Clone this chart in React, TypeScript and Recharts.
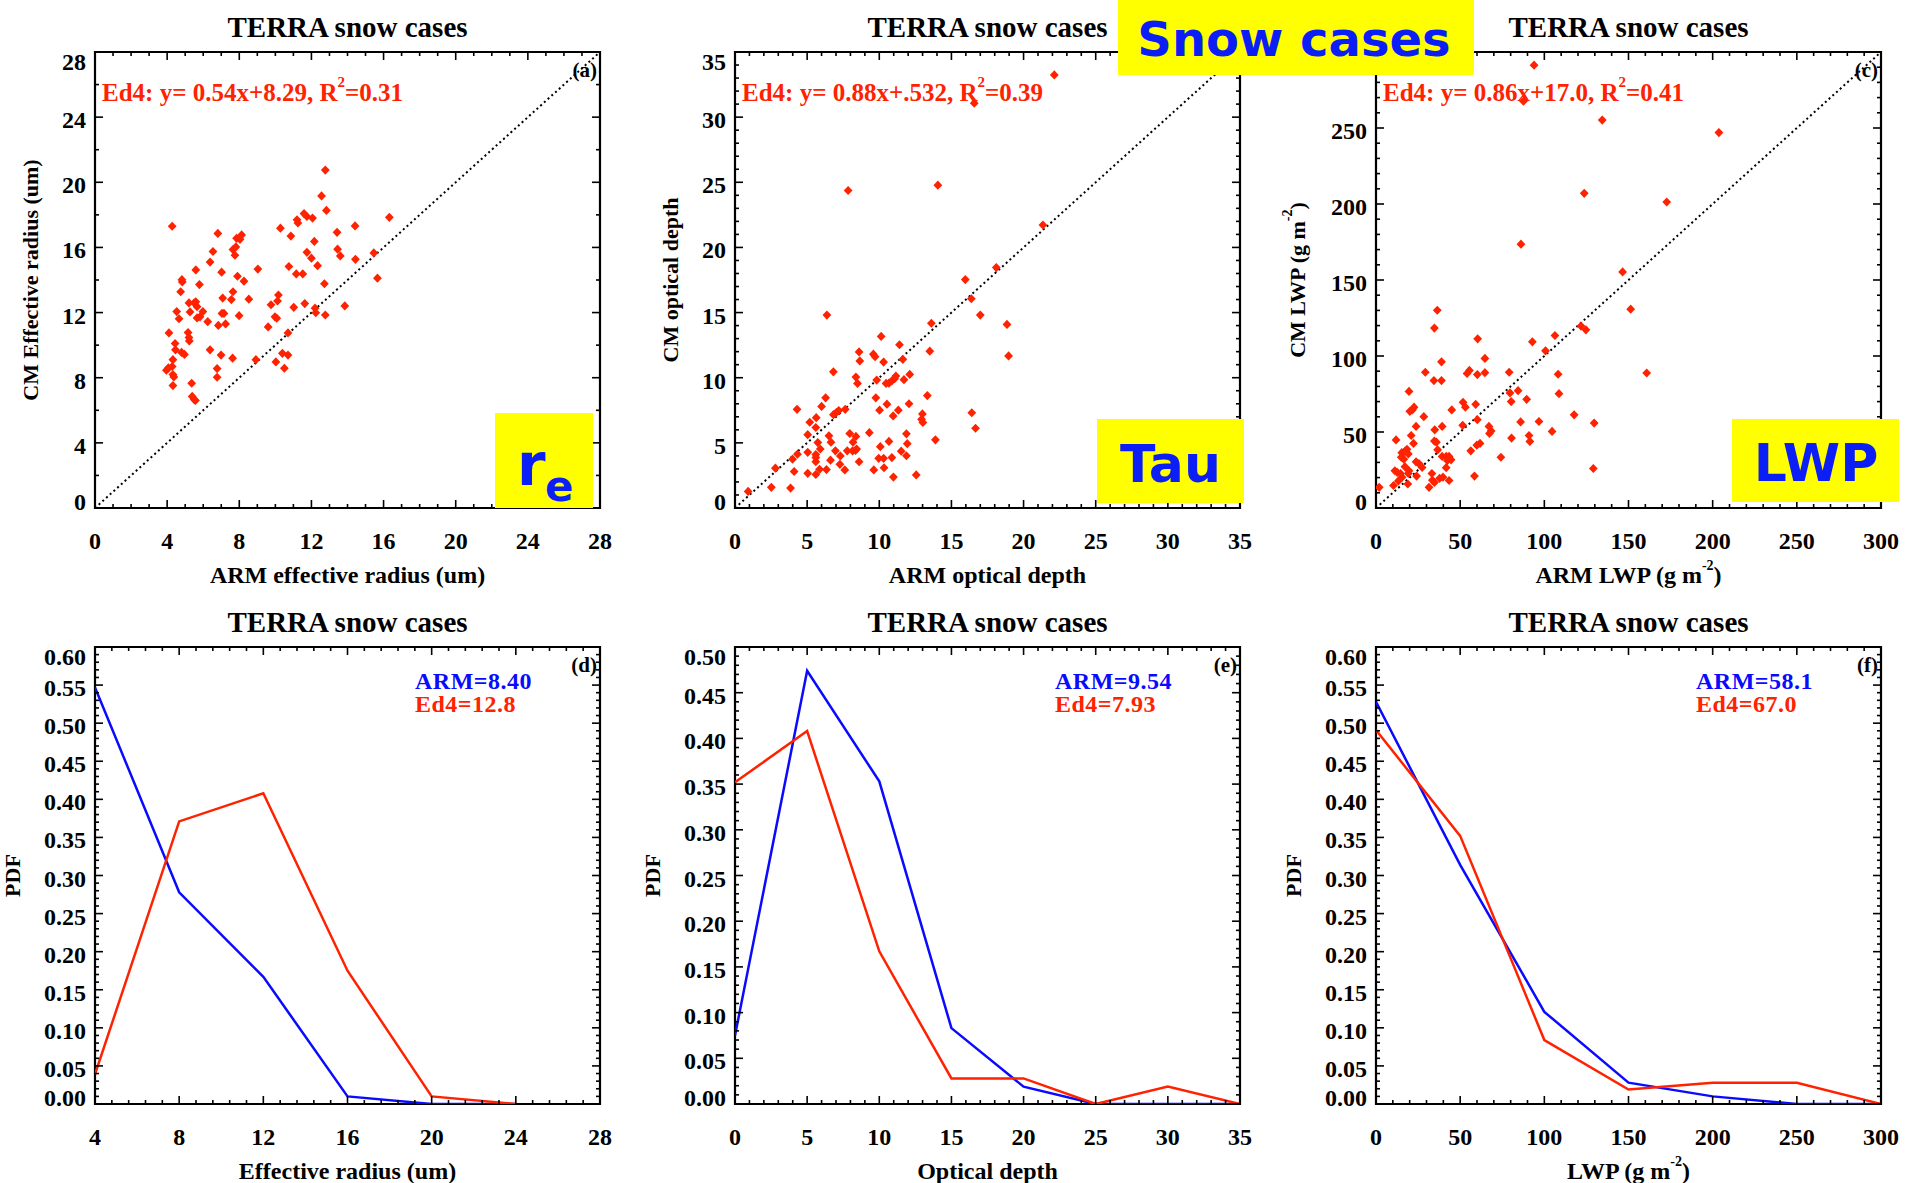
import React from 'react';
import { ScatterChart, Scatter, LineChart, Line, XAxis, YAxis, ReferenceLine, ReferenceArea } from 'recharts';

// ---- scatter data (ARM vs CM) ----
const reArm = [4.28, 12.77, 12.56, 12.83, 16.32, 14.42, 11.59, 11.75, 11.2, 11.25,
  12.06, 10.28, 10.86, 6.81, 7.85, 8.13, 8.04, 6.54, 7.65, 7.81,
  7.76, 6.38, 5.59, 7.02, 7.9, 8.26, 9.03, 4.82, 4.84, 5.79,
  4.75, 4.53, 4.66, 5.21, 5.27, 5.5, 5.59, 5.66, 5.98, 5.82,
  5.66, 6.25, 7.08, 7.56, 7.65, 7.04, 7.15, 7.24, 6.84, 7.99,
  8.53, 4.1, 5.16, 5.21, 5.23, 4.44, 4.46, 4.8, 4.96, 4.32,
  6.38, 6.99, 7.63, 8.92, 3.96, 4.07, 4.28, 4.32, 4.37, 4.32,
  5.36, 6.77, 6.77, 5.39, 5.5, 5.57, 9.76, 10.12, 10.17, 9.98,
  10.08, 9.6, 11.02, 11.63, 10.75, 11.16, 11.52, 11.75, 12.0, 12.16,
  12.34, 12.2, 12.24, 12.72, 12.77, 13.42, 13.45, 13.6, 14.44, 13.85,
  15.46, 15.66, 10.7, 10.39, 10.7, 10.03, 10.5];
const reCm = [17.3, 20.75, 19.16, 18.27, 17.85, 17.32, 18.08, 17.9, 17.7, 17.5,
  17.8, 17.18, 16.7, 16.86, 16.56, 16.77, 16.5, 15.75, 15.87, 16.03,
  15.52, 15.1, 14.62, 14.48, 14.23, 13.93, 14.67, 14.02, 13.88, 13.72,
  13.28, 12.06, 11.62, 12.59, 12.04, 12.59, 12.66, 12.36, 12.06, 11.74,
  11.67, 11.44, 12.89, 12.8, 13.28, 11.95, 11.95, 11.3, 11.21, 11.81,
  12.82, 10.75, 10.77, 10.47, 10.26, 10.1, 9.71, 9.55, 9.43, 9.11,
  9.71, 9.39, 9.2, 9.11, 8.46, 8.6, 8.69, 8.19, 8.05, 7.52,
  7.66, 8.56, 8.03, 6.85, 6.66, 6.6, 12.48, 12.71, 13.08, 11.74,
  11.65, 11.12, 12.32, 12.55, 14.83, 14.37, 14.37, 15.7, 15.34, 16.37,
  14.88, 12.27, 11.99, 13.77, 11.85, 16.93, 15.89, 15.48, 15.27, 12.41,
  15.66, 14.11, 10.75, 9.5, 9.39, 8.97, 8.58];

const tauArm = [22.13, 16.58, 7.84, 14.06, 21.34, 18.11, 15.96, 16.38, 17.0, 18.85,
  6.37, 13.61, 18.96, 13.5, 10.13, 11.4, 8.6, 9.59, 9.71, 10.3,
  11.63, 8.65, 6.82, 8.38, 8.49, 9.82, 10.47, 10.67, 10.87, 11.15,
  11.06, 11.71, 12.11, 6.28, 9.76, 13.33, 4.3, 6.0, 6.82, 7.02,
  7.19, 7.64, 10.53, 10.02, 10.96, 11.32, 12.06, 12.99, 13.02, 12.93,
  16.41, 16.67, 5.18, 5.63, 5.6, 5.04, 5.74, 6.51, 6.65, 5.91,
  6.96, 7.3, 7.78, 7.95, 8.38, 8.18, 8.35, 8.15, 8.43, 8.6,
  9.31, 10.07, 9.96, 10.3, 10.67, 10.87, 10.33, 9.62, 10.98, 11.52,
  11.88, 11.94, 11.88, 12.56, 13.89, 5.04, 5.6, 5.6, 5.6, 5.86,
  6.34, 5.6, 5.04, 6.62, 7.27, 7.61, 4.1, 3.99, 4.33, 2.8,
  2.52, 3.85, 0.91];
const tauCm = [33.24, 31.07, 24.37, 24.78, 21.72, 18.45, 17.53, 16.06, 14.81, 14.09,
  14.81, 14.18, 11.67, 12.04, 13.17, 12.53, 11.98, 11.81, 11.61, 11.2,
  11.41, 11.29, 10.45, 10.05, 9.56, 9.82, 9.56, 9.59, 9.76, 10.13,
  9.93, 9.85, 10.25, 8.46, 8.46, 8.63, 7.57, 7.8, 7.16, 7.33,
  7.48, 7.57, 7.97, 7.51, 7.07, 7.51, 8.0, 7.22, 6.57, 6.81,
  7.31, 6.12, 6.58, 6.93, 6.18, 5.63, 5.02, 5.54, 5.05, 4.53,
  4.39, 4.0, 4.39, 5.72, 5.49, 5.05, 4.42, 4.39, 4.53, 3.55,
  5.78, 4.71, 3.81, 3.81, 5.11, 3.87, 3.09, 2.92, 2.37, 4.36,
  4.01, 4.94, 5.69, 2.54, 5.23, 4.27, 4.1, 3.87, 3.55, 2.97,
  2.95, 2.57, 2.66, 3.67, 3.35, 2.92, 2.8, 3.75, 4.13, 3.06,
  1.59, 1.53, 1.27];

const lwpArm = [93.9, 87.6, 134.4, 203.7, 123.7, 172.7, 86.1, 146.5, 151.3, 160.8,
  121.8, 124.7, 106.3, 92.9, 100.7, 108.2, 108.7, 117.7, 129.6, 104.6,
  129.1, 84.4, 79.1, 79.6, 80.3, 89.5, 85.9, 96.8, 90.9, 91.4,
  80.5, 74.2, 60.4, 64.7, 64.7, 60.2, 55.5, 54.1, 51.7, 53.1,
  59.2, 60.2, 51.5, 67.1, 68.4, 67.4, 61.8, 59.9, 56.3, 58.5,
  36.4, 34.7, 38.9, 29.3, 34.4, 38.9, 19.6, 21.6, 22.6, 20.1,
  28.4, 45.0, 39.3, 34.9, 34.7, 35.9, 20.9, 23.8, 22.3, 11.9,
  36.6, 39.3, 41.7, 43.4, 42.4, 44.6, 41.7, 23.8, 25.5, 27.4,
  18.4, 17.2, 15.3, 15.0, 16.5, 19.2, 11.2, 12.6, 17.2, 19.2,
  15.5, 13.3, 10.4, 18.9, 24.1, 33.2, 33.5, 31.5, 34.7, 39.8,
  37.8, 43.4, 1.9, 14.6, 19.6];
const lwpCm = [291.3, 267.6, 255.2, 247.0, 207.0, 201.3, 173.6, 155.3, 130.8, 88.8,
  119.7, 117.2, 113.5, 109.3, 103.4, 88.0, 75.2, 61.3, 55.9, 50.4,
  26.0, 77.2, 89.3, 75.7, 70.0, 71.5, 56.6, 56.9, 47.7, 43.8,
  46.0, 33.4, 111.3, 98.4, 89.0, 87.8, 90.5, 88.5, 69.5, 66.3,
  68.2, 58.1, 54.4, 53.7, 50.7, 49.0, 42.5, 41.3, 37.6, 21.0,
  130.1, 118.4, 96.2, 89.3, 83.8, 83.8, 76.7, 64.5, 66.3, 63.6,
  60.1, 64.5, 53.7, 51.4, 44.0, 43.3, 47.7, 53.7, 42.5, 44.8,
  38.3, 33.9, 33.9, 33.9, 31.2, 31.7, 26.5, 30.4, 29.2, 26.7,
  38.6, 37.3, 36.4, 33.4, 32.1, 35.6, 24.5, 23.5, 27.2, 22.7,
  20.3, 17.8, 14.8, 15.8, 21.0, 22.7, 18.3, 13.6, 16.8, 20.3,
  19.5, 18.1, 13.6, 22.7, 24.5];

// ---- PDF data ----
const reBins = [4, 8, 12, 16, 20, 24];
const reArmPdf = [0.547, 0.278, 0.167, 0.01, 0, 0];
const reEd4Pdf = [0.039, 0.371, 0.408, 0.175, 0.01, 0];

const tauBins = [0, 5, 10, 15, 20, 25, 30, 35];
const tauArmPdf = [0.075, 0.474, 0.353, 0.083, 0.019, 0, 0, 0];
const tauEd4Pdf = [0.352, 0.408, 0.167, 0.028, 0.028, 0, 0.019, 0];

const lwpBins = [0, 50, 100, 150, 200, 250, 300];
const lwpArmPdf = [0.528, 0.314, 0.121, 0.028, 0.01, 0, 0];
const lwpEd4Pdf = [0.491, 0.352, 0.084, 0.019, 0.028, 0.028, 0];

// ---- tick labels ----
const reTicks = [0, 4, 8, 12, 16, 20, 24, 28];
const reTicksPdf = [4, 8, 12, 16, 20, 24, 28];
const tauTicks = [0, 5, 10, 15, 20, 25, 30, 35];
const lwpTicks = [0, 50, 100, 150, 200, 250, 300];
const pdfTicks6 = [0, 0.05, 0.1, 0.15, 0.2, 0.25, 0.3, 0.35, 0.4, 0.45, 0.5, 0.55, 0.6];
const pdfTicks5 = [0, 0.05, 0.1, 0.15, 0.2, 0.25, 0.3, 0.35, 0.4, 0.45, 0.5];

const SERIF = '"Liberation Serif", "Times New Roman", serif';
const SANS = '"DejaVu Sans", Verdana, sans-serif';
const RED = '#ff2200';
const BLUE = '#0a0aff';
const BOXBLUE = '#0a1ef5';

const CW = 620;     // chart width
const PW = 505;     // plot width
const PL = 95;      // plot left inside chart

const range = (a: number, b: number, s: number) => {
  const out: number[] = [];
  for (let i = 0; a + i * s <= b + 1e-9; i++) out.push(Math.round((a + i * s) * 1000) / 1000);
  return out;
};
const isIn = (arr: number[], v: number) => arr.some((m) => Math.abs(m - v) < 1e-6);

const xTick = (majors: number[], plotH: number, fmt: (v: number) => string) => (p: any) => {
  const v = Number(p.payload.value);
  const major = isIn(majors, v);
  const len = major ? 8 : 4;
  return (
    <g>
      <line x1={p.x} x2={p.x} y1={p.y} y2={p.y - len} stroke="#000" strokeWidth={1.6} />
      <line x1={p.x} x2={p.x} y1={p.y - plotH} y2={p.y - plotH + len} stroke="#000" strokeWidth={1.6} />
      {major && (
        <text x={p.x} y={p.y + 33} textAnchor="middle" dominantBaseline="central"
          fontFamily={SERIF} fontWeight="bold" fontSize={24} fill="#000">{fmt(v)}</text>
      )}
    </g>
  );
};

// labels: values that get a printed label (some majors sit under a badge in the original)
const yTick = (majors: number[], labels: number[], lo: number, hi: number, fmt: (v: number) => string) => (p: any) => {
  const v = Number(p.payload.value);
  const major = isIn(majors, v);
  const len = major ? 8 : 4;
  const adj = Math.abs(v - lo) < 1e-6 ? -6 : Math.abs(v - hi) < 1e-6 ? 10 : 3;
  return (
    <g>
      <line x1={p.x} x2={p.x + len} y1={p.y} y2={p.y} stroke="#000" strokeWidth={1.6} />
      <line x1={p.x + PW} x2={p.x + PW - len} y1={p.y} y2={p.y} stroke="#000" strokeWidth={1.6} />
      {major && isIn(labels, v) && (
        <text x={p.x - 9} y={p.y + adj} textAnchor="end" dominantBaseline="central"
          fontFamily={SERIF} fontWeight="bold" fontSize={24} fill="#000">{fmt(v)}</text>
      )}
    </g>
  );
};

const diamond = (p: any) => {
  const { cx, cy } = p;
  if (cx == null || cy == null) return <g />;
  return <polygon points={`${cx},${cy - 4.6} ${cx + 4.4},${cy} ${cx},${cy + 4.6} ${cx - 4.4},${cy}`} fill={RED} />;
};

const txt = { fontFamily: SERIF, fontWeight: 'bold' as const, fill: '#000' };

function Labels(props: {
  plotTop: number; plotH: number; height: number; yTitleDx: number;
  xTitle: React.ReactNode; yTitle: React.ReactNode; tag: string; children?: React.ReactNode;
}) {
  const { plotTop, plotH, height, yTitleDx, xTitle, yTitle, tag, children } = props;
  const cx = PL + PW / 2;
  const cy = plotTop + plotH / 2;
  return (
    <svg width={CW} height={height}
      style={{ position: 'absolute', left: 0, top: 0, pointerEvents: 'none', overflow: 'visible' }}>
      <text x={cx} y={plotTop - 25} textAnchor="middle" dominantBaseline="central" {...txt} fontSize={29}>
        TERRA snow cases
      </text>
      <text x={cx} y={plotTop + plotH + 67} textAnchor="middle" dominantBaseline="central" {...txt} fontSize={24}>
        {xTitle}
      </text>
      <text x={PL - yTitleDx} y={cy} textAnchor="middle" dominantBaseline="central" {...txt} fontSize={22}
        transform={`rotate(-90 ${PL - yTitleDx} ${cy})`}>
        {yTitle}
      </text>
      {tag && (
        <text x={PL + PW - 3} y={plotTop + 18} textAnchor="end" dominantBaseline="central" {...txt} fontSize={21}>
          {tag}
        </text>
      )}
      {children}
    </svg>
  );
}

const gm2 = (pre: string) => (
  <>
    {pre}(g m<tspan dy={-10} fontSize={14}>-2</tspan><tspan dy={10}>)</tspan>
  </>
);

function ScatterPanel(props: {
  left: number; xs: number[]; ys: number[]; max: number; majors: number[]; yLabels: number[]; xStep: number; yStep: number;
  xTitle: React.ReactNode; yTitle: React.ReactNode; yTitleDx: number; tag: string; fit: string; r2: string;
}) {
  const { left, xs, ys, max, majors, yLabels, xStep, yStep, xTitle, yTitle, yTitleDx, tag, fit, r2 } = props;
  const pts = xs.map((x, i) => ({ x, y: ys[i] }));
  const H = 600, top = 52, ph = 456;
  const fmt = (v: number) => String(v);
  return (
    <div style={{ position: 'absolute', left, top: 0, width: CW, height: H }}>
      <ScatterChart width={CW} height={H} margin={{ top, right: CW - PL - PW, bottom: H - top - ph - 40, left: PL - 60 }}>
        <XAxis type="number" dataKey="x" domain={[0, max]} allowDataOverflow ticks={range(0, max, xStep)} interval={0}
          tickSize={0} tickMargin={0} axisLine={false} tickLine={false} height={40} tick={xTick(majors, ph, fmt)} />
        <YAxis type="number" dataKey="y" domain={[0, max]} allowDataOverflow ticks={range(0, max, yStep)} interval={0}
          tickSize={0} tickMargin={0} axisLine={false} tickLine={false} width={60}
          tick={yTick(majors, yLabels, 0, max, fmt)} />
        <ReferenceLine segment={[{ x: 0, y: 0 }, { x: max, y: max }]} stroke="#000" strokeWidth={2}
          strokeDasharray="2 3" ifOverflow="visible" />
        <Scatter data={pts} shape={diamond} fill={RED} isAnimationActive={false} />
        <ReferenceArea x1={0} x2={max} y1={0} y2={max} fill="none" stroke="#000" strokeWidth={2.2} ifOverflow="visible" />
      </ScatterChart>
      <Labels plotTop={top} plotH={ph} height={H} yTitleDx={yTitleDx} xTitle={xTitle} yTitle={yTitle} tag={tag}>
        <text x={PL + 7} y={top + 40} dominantBaseline="central" fontFamily={SERIF} fontWeight="bold" fontSize={25} fill={RED}>
          Ed4: y= {fit}, R<tspan dy={-10} fontSize={15}>2</tspan><tspan dy={10}>={r2}</tspan>
        </text>
      </Labels>
    </div>
  );
}

function PdfPanel(props: {
  left: number; bins: number[]; arm: number[]; ed4: number[]; xMin: number; xMax: number; xMajors: number[];
  xStep: number; yMax: number; yMajors: number[]; xTitle: React.ReactNode; tag: string; armMean: string; ed4Mean: string;
}) {
  const { left, bins, arm, ed4, xMin, xMax, xMajors, xStep, yMax, yMajors, xTitle, tag, armMean, ed4Mean } = props;
  const rows = bins.map((x, i) => ({ x, arm: arm[i], ed4: ed4[i] }));
  const H = 583, top = 47, ph = 457;
  return (
    <div style={{ position: 'absolute', left, top: 600, width: CW, height: H }}>
      <LineChart width={CW} height={H} data={rows}
        margin={{ top, right: CW - PL - PW, bottom: H - top - ph - 40, left: PL - 60 }}>
        <XAxis type="number" dataKey="x" domain={[xMin, xMax]} allowDataOverflow ticks={range(xMin, xMax, xStep)} interval={0}
          tickSize={0} tickMargin={0} axisLine={false} tickLine={false} height={40}
          tick={xTick(xMajors, ph, (v) => String(v))} />
        <YAxis type="number" domain={[0, yMax]} allowDataOverflow ticks={range(0, yMax, 0.01)} interval={0}
          tickSize={0} tickMargin={0} axisLine={false} tickLine={false} width={60}
          tick={yTick(yMajors, yMajors, 0, yMax, (v) => v.toFixed(2))} />
        <Line type="linear" dataKey="arm" stroke={BLUE} strokeWidth={2.5} dot={false} isAnimationActive={false} />
        <Line type="linear" dataKey="ed4" stroke={RED} strokeWidth={2.5} dot={false} isAnimationActive={false} />
        <ReferenceArea x1={xMin} x2={xMax} y1={0} y2={yMax} fill="none" stroke="#000" strokeWidth={2.2} ifOverflow="visible" />
      </LineChart>
      <Labels plotTop={top} plotH={ph} height={H} yTitleDx={83} xTitle={xTitle} yTitle="PDF" tag={tag}>
        <text x={PL + 320} y={top + 34} dominantBaseline="central" fontFamily={SERIF} fontWeight="bold" fontSize={24}
          fill={BLUE} letterSpacing={0.5}>
          ARM={armMean}
        </text>
        <text x={PL + 320} y={top + 57} dominantBaseline="central" fontFamily={SERIF} fontWeight="bold" fontSize={24}
          fill={RED} letterSpacing={0.5}>
          Ed4={ed4Mean}
        </text>
      </Labels>
    </div>
  );
}

function Badge(props: { left: number; top: number; w: number; h: number; children: React.ReactNode }) {
  const { left, top, w, h, children } = props;
  return (
    <svg width={w} height={h} style={{ position: 'absolute', left, top, zIndex: 10, overflow: 'visible' }}>
      <rect x={0} y={0} width={w} height={h} fill="#ffff00" />
      {children}
    </svg>
  );
}

const boxTxt = { fontFamily: SANS, fontWeight: 'bold' as const, fill: BOXBLUE };

export default function App() {
  return (
    <div style={{ position: 'absolute', left: 0, top: 0, width: 1907, height: 1183, background: '#fff', overflow: 'hidden' }}>
      <ScatterPanel left={0} xs={reArm} ys={reCm} max={28} majors={reTicks} yLabels={reTicks} xStep={1} yStep={2}
        xTitle="ARM effective radius (um)" yTitle="CM Effective radius (um)" yTitleDx={65} tag="(a)"
        fit="0.54x+8.29" r2="0.31" />
      <ScatterPanel left={640} xs={tauArm} ys={tauCm} max={35} majors={tauTicks} yLabels={tauTicks} xStep={1} yStep={1}
        xTitle="ARM optical depth" yTitle="CM optical depth" yTitleDx={65} tag=""
        fit="0.88x+.532" r2="0.39" />
      <ScatterPanel left={1281} xs={lwpArm} ys={lwpCm} max={300} majors={lwpTicks} yLabels={lwpTicks.slice(0, -1)}
        xStep={10} yStep={10}
        xTitle={gm2('ARM LWP ')} yTitle={gm2('CM LWP ')} yTitleDx={79} tag="(c)"
        fit="0.86x+17.0" r2="0.41" />

      <PdfPanel left={0} bins={reBins} arm={reArmPdf} ed4={reEd4Pdf} xMin={4} xMax={28} xMajors={reTicksPdf} xStep={0.8}
        yMax={0.6} yMajors={pdfTicks6} xTitle="Effective radius (um)" tag="(d)" armMean="8.40" ed4Mean="12.8" />
      <PdfPanel left={640} bins={tauBins} arm={tauArmPdf} ed4={tauEd4Pdf} xMin={0} xMax={35} xMajors={tauTicks} xStep={1}
        yMax={0.5} yMajors={pdfTicks5} xTitle="Optical depth" tag="(e)" armMean="9.54" ed4Mean="7.93" />
      <PdfPanel left={1281} bins={lwpBins} arm={lwpArmPdf} ed4={lwpEd4Pdf} xMin={0} xMax={300} xMajors={lwpTicks} xStep={10}
        yMax={0.6} yMajors={pdfTicks6} xTitle={gm2('LWP ')} tag="(f)" armMean="58.1" ed4Mean="67.0" />

      <Badge left={1118} top={0} w={356} h={75}>
        <text x={176} y={56} textAnchor="middle" {...boxTxt} fontSize={48}>Snow cases</text>
      </Badge>
      <Badge left={495} top={413} w={98} h={95}>
        <text x={22} y={72} {...boxTxt} fontSize={58}>r</text>
        <text x={50} y={88} {...boxTxt} fontSize={42}>e</text>
      </Badge>
      <Badge left={1097} top={419} w={147} h={84}>
        <text x={73.5} y={63} textAnchor="middle" {...boxTxt} fontSize={52}>Tau</text>
      </Badge>
      <Badge left={1732} top={419} w={167} h={83}>
        <text x={84} y={62} textAnchor="middle" {...boxTxt} fontSize={52}>LWP</text>
      </Badge>
    </div>
  );
}
